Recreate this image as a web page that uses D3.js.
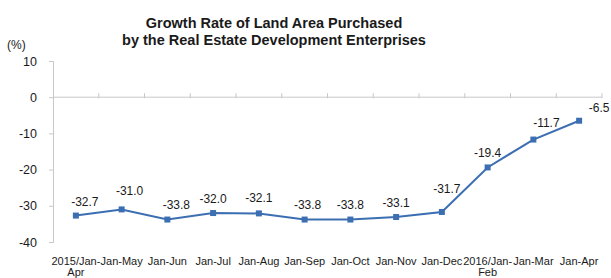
<!DOCTYPE html>
<html>
<head>
<meta charset="utf-8">
<script src="https://cdn.jsdelivr.net/npm/d3@7"></script>
<style>
  body { margin: 0; background: #fff; }
  text { font-family: "Liberation Sans", Arial, sans-serif; fill: #1a1a1a; }
</style>
</head>
<body>
<script>
// chart data
var categories = ["2015/Jan-Apr", "Jan-May", "Jan-Jun", "Jan-Jul", "Jan-Aug", "Jan-Sep",
                  "Jan-Oct", "Jan-Nov", "Jan-Dec", "2016/Jan-Feb", "Jan-Mar", "Jan-Apr"];
var growth = [-32.7, -31.0, -33.8, -32.0, -32.1, -33.8, -33.8, -33.1, -31.7, -19.4, -11.7, -6.5];
var yTicks = [10, 0, -10, -20, -30, -40];

// label nudges (dx, dy) so labels sit like the original
var labelDx = [9, 8, 9, 0, 0, 3, 0, 0, 5, 0, 13, 20];
var labelDy = [-10, -14, -11, -10, -11, -11, -11, -10, -19, -10, -13, -9];

var width = 611,
    height = 278;

var svg = d3.select("body").append("svg")
    .attr("width", width)
    .attr("height", height);

var x = d3.scaleBand()
    .domain(categories)
    .range([53, 602]);

var y = d3.scaleLinear()
    .domain([-40, 10])
    .range([242, 61]);

// title
svg.append("text")
    .attr("x", 274).attr("y", 28)
    .attr("text-anchor", "middle")
    .style("font-size", "14.5px").style("font-weight", "bold")
    .text("Growth Rate of Land Area Purchased");
svg.append("text")
    .attr("x", 274).attr("y", 45)
    .attr("text-anchor", "middle")
    .style("font-size", "14.5px").style("font-weight", "bold")
    .text("by the Real Estate Development Enterprises");

svg.append("text")
    .attr("x", 7).attr("y", 49)
    .style("font-size", "12px")
    .text("(%)");

// y axis
var yAxis = svg.append("g")
    .attr("transform", "translate(53,0)")
    .call(d3.axisLeft(y).tickValues(yTicks).tickSize(4).tickFormat(function(d) { return String(d); }));
yAxis.select(".domain").attr("stroke", "#c8c8c8");
yAxis.selectAll(".tick line").attr("stroke", "#c8c8c8");
yAxis.selectAll(".tick text")
    .attr("x", -16)
    .style("font-size", "12.5px")
    .style("font-family", "Liberation Sans, Arial, sans-serif")
    .attr("fill", "#1a1a1a");

// zero line with category boundary ticks
svg.append("line")
    .attr("x1", 53).attr("x2", 602)
    .attr("y1", y(0)).attr("y2", y(0))
    .attr("stroke", "#c8c8c8");
svg.selectAll(".ztick")
    .data(categories)
    .enter().append("line")
    .attr("class", "ztick")
    .attr("x1", function(d) { return x(d) + x.bandwidth(); })
    .attr("x2", function(d) { return x(d) + x.bandwidth(); })
    .attr("y1", y(0) - 4).attr("y2", y(0) + 1)
    .attr("stroke", "#c8c8c8");

// x labels (under the plot)
svg.selectAll(".xlab")
    .data(categories)
    .enter().append("text")
    .attr("class", "xlab")
    .attr("text-anchor", "middle")
    .attr("transform", function(d) { return "translate(" + (x(d) + x.bandwidth() / 2) + ",265)"; })
    .style("font-size", "11px")
    .each(function(d) {
        var t = d3.select(this);
        if (d.indexOf("/") > 0) {
            var cut = d.indexOf("-") + 1;
            t.append("tspan").attr("x", 0).attr("y", 0).text(d.slice(0, cut));
            t.append("tspan").attr("x", 0).attr("y", 11).text(d.slice(cut));
        } else {
            t.text(d);
        }
    });

// line
var line = d3.line()
    .x(function(d, i) { return x(categories[i]) + x.bandwidth() / 2; })
    .y(function(d) { return y(d); });

svg.append("path")
    .datum(growth)
    .attr("d", line)
    .attr("fill", "none")
    .attr("stroke", "#3c6fb2")
    .attr("stroke-width", 2);

svg.selectAll(".pt")
    .data(growth)
    .enter().append("rect")
    .attr("class", "pt")
    .attr("x", function(d, i) { return x(categories[i]) + x.bandwidth() / 2 - 3; })
    .attr("y", function(d) { return y(d) - 3; })
    .attr("width", 6).attr("height", 6)
    .attr("fill", "#3c6fb2");

svg.selectAll(".vlab")
    .data(growth)
    .enter().append("text")
    .attr("class", "vlab")
    .attr("text-anchor", "middle")
    .attr("x", function(d, i) { return x(categories[i]) + x.bandwidth() / 2 + labelDx[i]; })
    .attr("y", function(d, i) { return y(d) + labelDy[i]; })
    .style("font-size", "12px")
    .text(function(d) { return d.toFixed(1); });
</script>
</body>
</html>
